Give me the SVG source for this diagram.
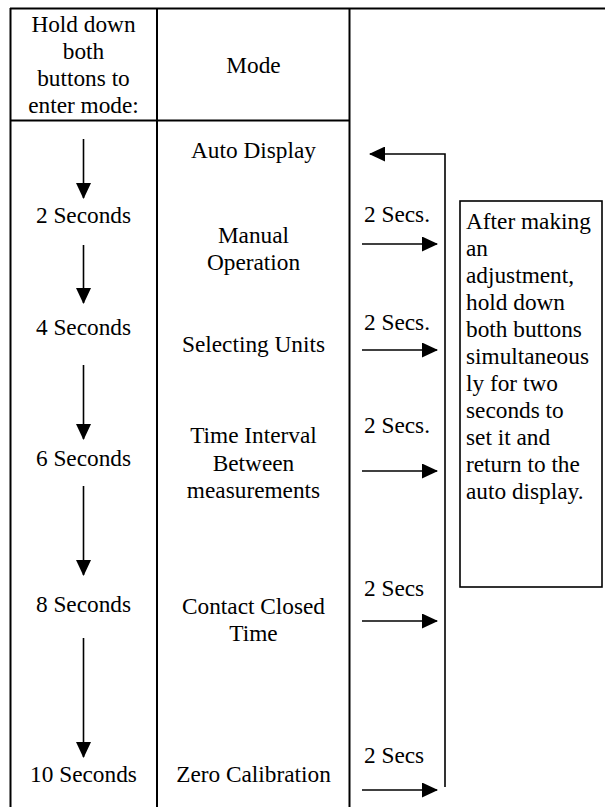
<svg xmlns="http://www.w3.org/2000/svg" width="605" height="807" viewBox="0 0 605 807" font-family="Liberation Serif, DejaVu Serif, serif">
  <style>
    text { font-family: "Liberation Serif", "DejaVu Serif", serif; font-size: 23.3px; fill: #000; }
    .c { text-anchor: middle; }
    .grid { stroke: #000; stroke-width: 2; fill: none; }
    .conn { stroke: #000; stroke-width: 1.6; fill: none; }
    .box { stroke: #000; stroke-width: 1.6; fill: #fff; }
  </style>
  <defs>
    <marker id="ah" viewBox="0 0 16 15" refX="15" refY="7.5" markerWidth="16" markerHeight="15" markerUnits="userSpaceOnUse" orient="auto">
      <path d="M0,0 L16,7.5 L0,15 Z" fill="#000"/>
    </marker>
  </defs>
  <rect width="605" height="807" fill="#fff"/>

  <g id="table" class="grid">
    <line x1="10" y1="8.5" x2="605" y2="8.5"/>
    <line x1="10.5" y1="8" x2="10.5" y2="807"/>
    <line x1="157" y1="8" x2="157" y2="807"/>
    <line x1="349.5" y1="8" x2="349.5" y2="807"/>
    <line x1="10" y1="120.5" x2="349.5" y2="120.5"/>
  </g>

  <g id="header-hold">
    <text class="c" x="83.5" y="32">Hold down</text>
    <text class="c" x="83.5" y="59">both</text>
    <text class="c" x="83.5" y="86">buttons to</text>
    <text class="c" x="83.5" y="113">enter mode:</text>
  </g>
  <g id="header-mode"><text class="c" x="253.5" y="73">Mode</text></g>

  <g id="t2"><text class="c" x="83.5" y="223">2 Seconds</text></g>
  <g id="t4"><text class="c" x="83.5" y="335">4 Seconds</text></g>
  <g id="t6"><text class="c" x="83.5" y="466">6 Seconds</text></g>
  <g id="t8"><text class="c" x="83.5" y="612">8 Seconds</text></g>
  <g id="t10"><text class="c" x="83.5" y="782">10 Seconds</text></g>

  <g id="m-auto"><text class="c" x="253.5" y="158">Auto Display</text></g>
  <g id="m-manual"><text class="c" x="253.5" y="243">Manual</text><text class="c" x="253.5" y="270">Operation</text></g>
  <g id="m-units"><text class="c" x="253.5" y="352">Selecting Units</text></g>
  <g id="m-interval"><text class="c" x="253.5" y="443">Time Interval</text><text class="c" x="253.5" y="471">Between</text><text class="c" x="253.5" y="498">measurements</text></g>
  <g id="m-contact"><text class="c" x="253.5" y="614">Contact Closed</text><text class="c" x="253.5" y="641">Time</text></g>
  <g id="m-zero"><text class="c" x="253.5" y="782">Zero Calibration</text></g>

  <g id="note">
    <rect class="box" x="460" y="201" width="142" height="386"/>
    <text x="466" y="229">After making</text>
    <text x="466" y="256">an</text>
    <text x="466" y="283">adjustment,</text>
    <text x="466" y="310">hold down</text>
    <text x="466" y="337">both buttons</text>
    <text x="466" y="364">simultaneous</text>
    <text x="466" y="391">ly for two</text>
    <text x="466" y="418">seconds to</text>
    <text x="466" y="445">set it and</text>
    <text x="466" y="472">return to the</text>
    <text x="466" y="499">auto display.</text>
  </g>

  <g id="labels">
    <text x="364" y="222">2 Secs.</text>
    <text x="364" y="330">2 Secs.</text>
    <text x="364" y="433">2 Secs.</text>
    <text x="364" y="596">2 Secs</text>
    <text x="364" y="763">2 Secs</text>
  </g>

  <g id="connectors" class="conn">
    <path d="M83.5,139 V198" marker-end="url(#ah)"/>
    <path d="M83.5,245 V303" marker-end="url(#ah)"/>
    <path d="M83.5,365 V439" marker-end="url(#ah)"/>
    <path d="M83.5,486 V575" marker-end="url(#ah)"/>
    <path d="M83.5,638 V757" marker-end="url(#ah)"/>
    <path d="M445,787 V154 H370" marker-end="url(#ah)"/>
    <path d="M362,244 H437" marker-end="url(#ah)"/>
    <path d="M362,350 H437" marker-end="url(#ah)"/>
    <path d="M362,471 H437" marker-end="url(#ah)"/>
    <path d="M362,621 H437" marker-end="url(#ah)"/>
    <path d="M362,790 H437" marker-end="url(#ah)"/>
  </g>
</svg>
